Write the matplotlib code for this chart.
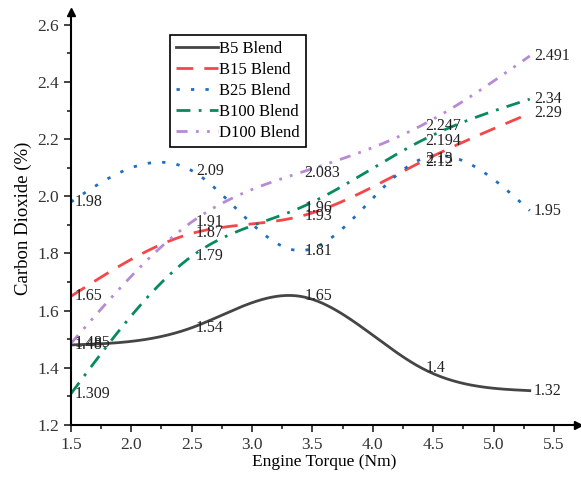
import numpy as np
import matplotlib.pyplot as plt
from matplotlib.ticker import MultipleLocator

plt.rcParams['font.family'] = ['Liberation Serif', 'DejaVu Serif']

# torque points and CO2 values (%)
torque = [1.5, 2.5, 3.4, 4.4, 5.3]
b5 = [1.48, 1.54, 1.65, 1.40, 1.32]
b15 = [1.65, 1.87, 1.93, 2.12, 2.29]
b25 = [1.98, 2.09, 1.81, 2.13, 1.95]
b100 = [1.309, 1.79, 1.96, 2.194, 2.34]
d100 = [1.485, 1.91, 2.083, 2.247, 2.491]

names = ['B5 Blend', 'B15 Blend', 'B25 Blend', 'B100 Blend', 'D100 Blend']
series = [b5, b15, b25, b100, d100]
colors = ['#454545', '#f5464a', '#1f6fc0', '#078a5c', '#b88ad6']
styles = ['-', (0, (6, 4)), (0, (1.2, 4)), (0, (5, 3, 1, 3)), (0, (4, 3, 1, 3, 1, 3))]
labels_txt = [['1.48', '1.54', '1.65', '1.4', '1.32'],
              ['1.65', '1.87', '1.93', '2.12', '2.29'],
              ['1.98', '2.09', '1.81', '2.13', '1.95'],
              ['1.309', '1.79', '1.96', '2.194', '2.34'],
              ['1.485', '1.91', '2.083', '2.247', '2.491']]


def natural_spline(x, y, xs):
    # plain natural cubic spline, no scipy needed
    x = np.asarray(x, float)
    y = np.asarray(y, float)
    n = len(x)
    h = np.diff(x)
    A = np.zeros((n, n))
    r = np.zeros(n)
    A[0, 0] = A[-1, -1] = 1
    for i in range(1, n - 1):
        A[i, i - 1] = h[i - 1]
        A[i, i] = 2 * (h[i - 1] + h[i])
        A[i, i + 1] = h[i]
        r[i] = 3 * ((y[i + 1] - y[i]) / h[i] - (y[i] - y[i - 1]) / h[i - 1])
    c = np.linalg.solve(A, r)
    out = np.empty_like(xs)
    for k, xv in enumerate(xs):
        i = min(np.searchsorted(x, xv) - 1, n - 2)
        i = max(i, 0)
        b = (y[i + 1] - y[i]) / h[i] - h[i] * (2 * c[i] + c[i + 1]) / 3
        d = (c[i + 1] - c[i]) / (3 * h[i])
        t = xv - x[i]
        out[k] = y[i] + b * t + c[i] * t ** 2 + d * t ** 3
    return out


fig = plt.figure(figsize=(5.81, 4.78), dpi=100)
ax = fig.add_axes([0.122, 0.111, 0.873, 0.864])

xs = np.linspace(torque[0], torque[-1], 300)
for vals, name, col, ls in zip(series, names, colors, styles):
    ax.plot(xs, natural_spline(torque, vals, xs), color=col, linestyle=ls, lw=2, label=name)

for vals, txts in zip(series, labels_txt):
    for xv, yv, t in zip(torque, vals, txts):
        ax.annotate(t, (xv, yv), xytext=(3, 0), textcoords='offset points',
                    va='center', ha='left', fontsize=11.5, color='#222222')

ax.set_xlim(1.5, 5.7)
ax.set_ylim(1.2, 2.645)
ax.xaxis.set_minor_locator(MultipleLocator(0.25))
ax.yaxis.set_minor_locator(MultipleLocator(0.1))
ax.set_xticks(np.arange(1.5, 5.51, 0.5))
ax.set_yticks(np.arange(1.2, 2.61, 0.2))
ax.xaxis.set_major_formatter(plt.FormatStrFormatter('%.1f'))
ax.yaxis.set_major_formatter(plt.FormatStrFormatter('%.1f'))
ax.tick_params(which='major', direction='out', length=5, width=1.2, labelsize=12.5,
               color='#222222', labelcolor='#333333')
ax.tick_params(which='minor', direction='out', length=3, width=1.2, color='#222222')

ax.spines['top'].set_visible(False)
ax.spines['right'].set_visible(False)
ax.spines['left'].set_linewidth(1.5)
ax.spines['bottom'].set_linewidth(1.5)
# arrow heads at the axis ends
ax.plot(1, 0, '>', color='black', ms=6, transform=ax.transAxes, clip_on=False)
ax.plot(0, 1, '^', color='black', ms=6, transform=ax.transAxes, clip_on=False)

ax.set_xlabel('Engine Torque (Nm)', fontsize=12.5, labelpad=1)
ax.set_ylabel('Carbon Dioxide (%)', fontsize=13.5, labelpad=4)

leg = ax.legend(loc='upper left', bbox_to_anchor=(170 / 581, 1 - 35 / 478),
                bbox_transform=fig.transFigure, borderaxespad=0, fontsize=12,
                handlelength=2.5, handletextpad=0.1, labelspacing=0.3,
                fancybox=False, framealpha=1, edgecolor='black', borderpad=0.35)
leg.get_frame().set_linewidth(1.2)

fig.savefig('out.png', dpi=100)
